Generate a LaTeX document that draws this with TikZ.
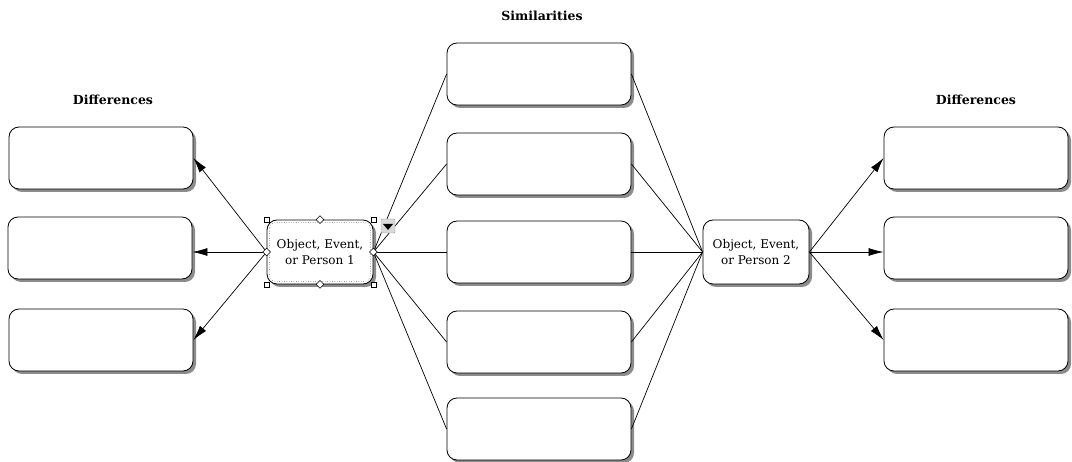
\documentclass[tikz,border=0pt]{standalone}
\usepackage{fontspec}
\setmainfont{DejaVu Serif}
\usetikzlibrary{arrows.meta,positioning,calc,shadows,shapes.geometric}

\begin{document}
\begin{tikzpicture}[x=1pt,y=-1pt,
    b/.style={draw,fill=white,rounded corners=10pt,line width=0.8pt,
      minimum width=184pt,minimum height=62pt,
      drop shadow={shadow xshift=3pt,shadow yshift=-3pt,fill=black!45,opacity=1}},
    p/.style={b,minimum width=106pt,minimum height=64pt,align=center,
      font=\fontsize{12}{16}\selectfont},
    t/.style={font=\fontsize{12.5}{14}\selectfont\bfseries},
    h/.style={draw,fill=white,inner sep=0pt,minimum size=5pt,line width=0.5pt},
    hd/.style={h,diamond,minimum size=8pt},
    l/.style={line width=0.7pt},
    a/.style={l,-{Latex[length=15pt,width=8pt]}}]
    \useasboundingbox (0,0) rectangle (1072,462);
    % titles
    \node[t] (sim) at (542,16) {Similarities};
    \node[t] (difl) at (113,100) {Differences};
    \node[t] (difr) at (976,100) {Differences};
    % the two things compared
    \node[p] (p1) at (320,252) {Object, Event,\\or Person 1};
    \node[p] (p2) at (756,252) {Object, Event,\\or Person 2};
    % left differences
    \node[b] (l1) at (101,158) {};
    \node[b] (l2) at (100,248) {};
    \node[b] (l3) at (101,340) {};
    % similarities
    \node[b] (s1) at (539,74) {};
    \node[b] (s2) at (539,164) {};
    \node[b] (s3) at (539,252) {};
    \node[b] (s4) at (539,342) {};
    \node[b] (s5) at (539,429) {};
    % right differences
    \node[b] (r1) at (976,158) {};
    \node[b] (r2) at (976,248) {};
    \node[b] (r3) at (976,340) {};
    % connectors
    \foreach \s in {s1,s2,s3,s4,s5}{
      \draw[l] (p1.east) -- (\s.west);
      \draw[l] (\s.east) -- (p2.west);
    }
    \draw[a] (p1.west) -- (l1.east);
    \draw[a] (p1.west) -- (l2.east |- p1.west);
    \draw[a] (p1.west) -- (l3.east);
    \draw[a] (p2.east) -- (r1.west);
    \draw[a] (p2.east) -- (r2.west |- p2.east);
    \draw[a] (p2.east) -- (r3.west);
    % selection handles on person 1
    \draw[dotted,rounded corners=6pt] ($(p1.north west)+(3,3)$) rectangle ($(p1.south east)+(-3,-3)$);
    \node[h] (hnw) at (p1.north west) {};
    \node[h] (hne) at (p1.north east) {};
    \node[h] (hsw) at (p1.south west) {};
    \node[h] (hse) at (p1.south east) {};
    \node[hd] (hn) at (p1.north) {};
    \node[hd] (hs) at (p1.south) {};
    \node[hd] (hw) at (p1.west) {};
    \node[hd] (he) at (p1.east) {};
    \node[draw=black!40,fill=black!15,rounded corners=1pt,minimum size=14pt,inner sep=0pt] (btn) at (388,226) {};
    \fill ($(btn.center)+(-5,-2)$) -- ($(btn.center)+(5,-2)$) -- ($(btn.center)+(0,4)$) -- cycle;
  \end{tikzpicture}
\end{document}
